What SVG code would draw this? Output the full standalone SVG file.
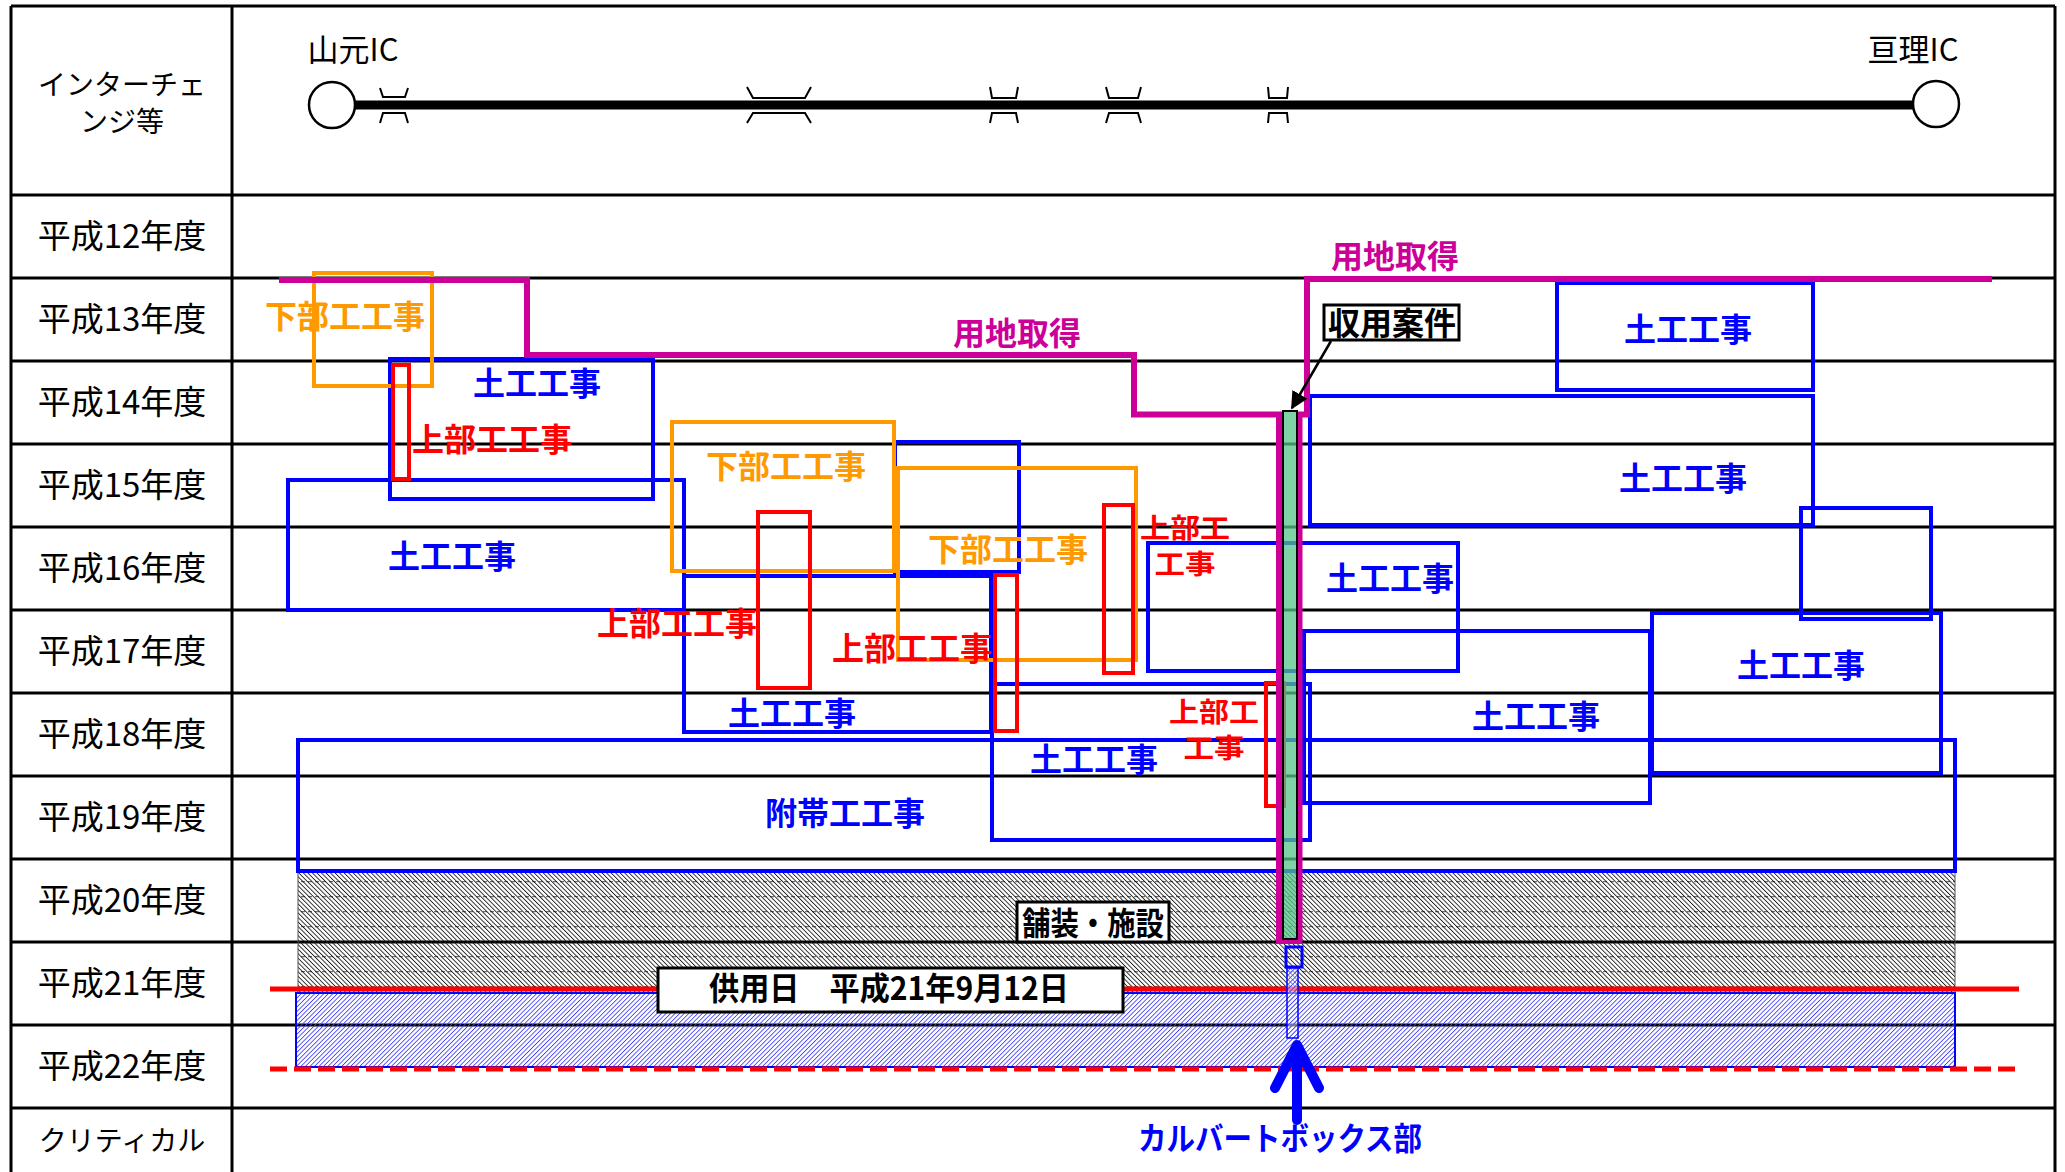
<svg xmlns="http://www.w3.org/2000/svg" width="2065" height="1172" viewBox="0 0 2065 1172">
<defs>
<style>
.grid{stroke:#000;stroke-width:3;fill:none}
.ic{fill:none;stroke:#000;stroke-width:2}
.lbl{font-family:"Noto Sans CJK JP","Liberation Sans",sans-serif;fill:#000;text-anchor:middle}
.b{font-family:"Noto Sans CJK JP","Liberation Sans",sans-serif;font-weight:bold;font-size:32px;text-anchor:middle}
.b2{font-family:"Noto Sans CJK JP","Liberation Sans",sans-serif;font-weight:bold;font-size:27px;text-anchor:middle}
.blue{fill:none;stroke:#0000FF;stroke-width:4}
.orange{fill:none;stroke:#FF9900;stroke-width:4}
.red{fill:none;stroke:#FF0000;stroke-width:4}
.tb{fill:#0000FF}.to{fill:#FF9900}.tr{fill:#FF0000}.tm{fill:#CC0099}.tk{fill:#000}
.box{fill:#fff;stroke:#000;stroke-width:3}
</style>
<pattern id="grayHatch" width="3.2" height="4" patternUnits="userSpaceOnUse" patternTransform="rotate(-45)">
<line x1="0" y1="-1" x2="0" y2="5" stroke="#1e1e1e" stroke-width="1.8"/>
</pattern>
<pattern id="dashH" width="7" height="15" patternUnits="userSpaceOnUse">
<line x1="0" y1="11.7" x2="4" y2="11.7" stroke="#000" stroke-width="1" opacity="0.7"/>
</pattern>
<pattern id="blueHatch" width="3.2" height="4" patternUnits="userSpaceOnUse" patternTransform="rotate(45)">
<line x1="0" y1="-1" x2="0" y2="5" stroke="#4040ff" stroke-width="1.7"/>
</pattern>
<marker id="arrowK" viewBox="0 0 10 10" refX="9" refY="5" markerWidth="7" markerHeight="7" markerUnits="strokeWidth" orient="auto">
<path d="M0 0 L10 5 L0 10 Z" fill="#000"/>
</marker>
</defs>
<rect x="0" y="0" width="2065" height="1172" fill="#fff"/>

<g id="table">
<line class="grid" x1="11" y1="6" x2="2055" y2="6"/>
<line class="grid" x1="11" y1="6" x2="11" y2="1180"/>
<line class="grid" x1="232" y1="6" x2="232" y2="1180"/>
<line class="grid" x1="2055" y1="6" x2="2055" y2="1180"/>
<line class="grid" x1="11" y1="195" x2="2055" y2="195"/>
<line class="grid" x1="11" y1="278" x2="2055" y2="278"/>
<line class="grid" x1="11" y1="361" x2="2055" y2="361"/>
<line class="grid" x1="11" y1="444" x2="2055" y2="444"/>
<line class="grid" x1="11" y1="527" x2="2055" y2="527"/>
<line class="grid" x1="11" y1="610" x2="2055" y2="610"/>
<line class="grid" x1="11" y1="693" x2="2055" y2="693"/>
<line class="grid" x1="11" y1="776" x2="2055" y2="776"/>
<line class="grid" x1="11" y1="859" x2="2055" y2="859"/>
<line class="grid" x1="11" y1="942" x2="2055" y2="942"/>
<line class="grid" x1="11" y1="1025" x2="2055" y2="1025"/>
<line class="grid" x1="11" y1="1108" x2="2055" y2="1108"/>
<text class="lbl" font-size="28"><tspan x="122" y="95">インターチェ</tspan><tspan x="122" y="132">ンジ等</tspan></text>
<text class="lbl" x="122" y="248" font-size="33">平成12年度</text>
<text class="lbl" x="122" y="331" font-size="33">平成13年度</text>
<text class="lbl" x="122" y="414" font-size="33">平成14年度</text>
<text class="lbl" x="122" y="497" font-size="33">平成15年度</text>
<text class="lbl" x="122" y="580" font-size="33">平成16年度</text>
<text class="lbl" x="122" y="663" font-size="33">平成17年度</text>
<text class="lbl" x="122" y="746" font-size="33">平成18年度</text>
<text class="lbl" x="122" y="829" font-size="33">平成19年度</text>
<text class="lbl" x="122" y="912" font-size="33">平成20年度</text>
<text class="lbl" x="122" y="995" font-size="33">平成21年度</text>
<text class="lbl" x="122" y="1078" font-size="33">平成22年度</text>
<text class="lbl" x="122" y="1151" font-size="28">クリティカル</text>
</g>

<g id="route">
<line x1="355" y1="105" x2="1913" y2="105" stroke="#000" stroke-width="9"/>
<circle cx="332" cy="105" r="23" fill="#fff" stroke="#000" stroke-width="2.5"/>
<circle cx="1936" cy="104" r="23" fill="#fff" stroke="#000" stroke-width="2.5"/>
<text class="lbl" x="353" y="61" font-size="31">山元IC</text>
<text class="lbl" x="1913" y="61" font-size="31">亘理IC</text>
<polyline class="ic" points="380,88 383,97 405,97 408,88"/>
<polyline class="ic" points="380,123 383,113 405,113 408,123"/>
<polyline class="ic" points="747,87 753,98 805,98 811,87"/>
<polyline class="ic" points="747,123 753,113 805,113 811,123"/>
<polyline class="ic" points="990,87 992,98 1016,98 1018,87"/>
<polyline class="ic" points="990,123 992,113 1016,113 1018,123"/>
<polyline class="ic" points="1106,87 1109,98 1138,98 1141,87"/>
<polyline class="ic" points="1106,123 1109,113 1138,113 1141,123"/>
<polyline class="ic" points="1268,87 1269,98 1287,98 1288,87"/>
<polyline class="ic" points="1268,123 1269,113 1287,113 1288,123"/>
</g>

<g id="paving">
<rect x="298" y="872" width="1657" height="121" fill="url(#grayHatch)" stroke="#555" stroke-width="1"/>
<rect x="298" y="872" width="1657" height="121" fill="url(#dashH)"/>
</g>
<g id="service">
<rect x="296" y="993" width="1659" height="74" fill="url(#blueHatch)" stroke="#0000FF" stroke-width="2"/>
</g>

<g id="earthworks">
<rect class="blue" x="390" y="359" width="263" height="140"/>
<rect class="blue" x="288" y="480" width="396" height="130"/>
<rect class="blue" x="895" y="442" width="124" height="130"/>
<rect class="blue" x="684" y="576" width="307" height="156"/>
<rect class="blue" x="992" y="684" width="318" height="156"/>
<rect class="blue" x="298" y="740" width="1657" height="131"/>
<rect class="blue" x="1148" y="543" width="310" height="128"/>
<rect class="blue" x="1304" y="631" width="346" height="172"/>
<rect class="blue" x="1557" y="283" width="256" height="107"/>
<rect class="blue" x="1310" y="396" width="503" height="129"/>
<rect class="blue" x="1801" y="508" width="130" height="111"/>
<rect class="blue" x="1652" y="613" width="289" height="160"/>
</g>

<g id="substructure">
<rect class="orange" x="314" y="273" width="118" height="113"/>
<rect class="orange" x="672" y="422" width="222" height="149"/>
<rect class="orange" x="898" y="468" width="238" height="192"/>
</g>

<g id="superstructure">
<rect class="red" x="393" y="365" width="16" height="114"/>
<rect class="red" x="758" y="512" width="52" height="176"/>
<rect class="red" x="995" y="575" width="22" height="156"/>
<rect class="red" x="1104" y="505" width="29" height="168"/>
<rect class="red" x="1266" y="683" width="18" height="123"/>
</g>

<g id="land">
<path d="M279 280 H527 V355 H1134 V414.5 H1279 V941 H1299.5 V414.5 H1307 V279 H1992" fill="none" stroke="#CC0099" stroke-width="6"/>
</g>

<g id="expropriation">
<rect x="1283" y="411" width="14" height="528" fill="#55c489" fill-opacity="0.75" stroke="#000" stroke-width="2"/>
<rect x="1324" y="305" width="135" height="35" class="box" stroke-width="2.5"/>
<text class="b tk" x="1392" y="335" font-size="31">収用案件</text>
</g>

<g id="milestones">
<line x1="270" y1="989" x2="2019" y2="989" stroke="#FF0000" stroke-width="5"/>
<line x1="270" y1="1069" x2="2019" y2="1069" stroke="#FF0000" stroke-width="5" stroke-dasharray="17 7"/>
</g>

<g id="pavingLabel">
<rect class="box" x="1017" y="902" width="152" height="40"/>
<text class="b tk" x="1093" y="935" font-size="31" textLength="142" lengthAdjust="spacingAndGlyphs">舗装・施設</text>
</g>
<g id="openingLabel">
<rect class="box" x="658" y="968" width="465" height="44"/>
<text class="b tk" x="889" y="1000" font-size="30" textLength="360" lengthAdjust="spacingAndGlyphs">供用日　平成21年9月12日</text>
</g>

<g id="culvert">
<rect x="1286" y="947" width="16" height="20" fill="none" stroke="#0000FF" stroke-width="3"/>
<rect x="1287" y="968" width="11" height="70" fill="#fff" fill-opacity="0.5"/>
<rect x="1287" y="968" width="11" height="70" fill="url(#blueHatch)" stroke="#0000FF" stroke-width="1.5"/>
<text class="b tb" x="1280" y="1150" font-size="29" textLength="284" lengthAdjust="spacingAndGlyphs">カルバートボックス部</text>
</g>

<g id="connectors">
<line x1="1331" y1="341" x2="1292" y2="408" stroke="#000" stroke-width="2.5" marker-end="url(#arrowK)"/>
<path d="M1297 1120 V1048" fill="none" stroke="#0000FF" stroke-width="10" stroke-linecap="round"/>
<path d="M1275 1088 L1297 1045 L1319 1088" fill="none" stroke="#0000FF" stroke-width="10" stroke-linecap="round" stroke-linejoin="round"/>
</g>

<g id="labels">
<text class="b to" x="345" y="328">下部工工事</text>
<text class="b to" x="786" y="478">下部工工事</text>
<text class="b to" x="1008" y="561">下部工工事</text>
<text class="b tr" x="492" y="451">上部工工事</text>
<text class="b tr" x="677" y="635">上部工工事</text>
<text class="b tr" x="912" y="660">上部工工事</text>
<text class="b2 tr"><tspan x="1185" y="538" textLength="90" lengthAdjust="spacingAndGlyphs">上部工</tspan><tspan x="1185" y="574" textLength="61" lengthAdjust="spacingAndGlyphs">工事</tspan></text>
<text class="b2 tr"><tspan x="1214" y="722" textLength="90" lengthAdjust="spacingAndGlyphs">上部工</tspan><tspan x="1214" y="758" textLength="61" lengthAdjust="spacingAndGlyphs">工事</tspan></text>
<text class="b tb" x="537" y="395">土工工事</text>
<text class="b tb" x="452" y="568">土工工事</text>
<text class="b tb" x="792" y="725">土工工事</text>
<text class="b tb" x="1094" y="771">土工工事</text>
<text class="b tb" x="845" y="825">附帯工工事</text>
<text class="b tb" x="1390" y="590">土工工事</text>
<text class="b tb" x="1536" y="728">土工工事</text>
<text class="b tb" x="1688" y="341">土工工事</text>
<text class="b tb" x="1683" y="490">土工工事</text>
<text class="b tb" x="1801" y="677">土工工事</text>
<text class="b tm" x="1017" y="345">用地取得</text>
<text class="b tm" x="1395" y="268">用地取得</text>
</g>
</svg>
